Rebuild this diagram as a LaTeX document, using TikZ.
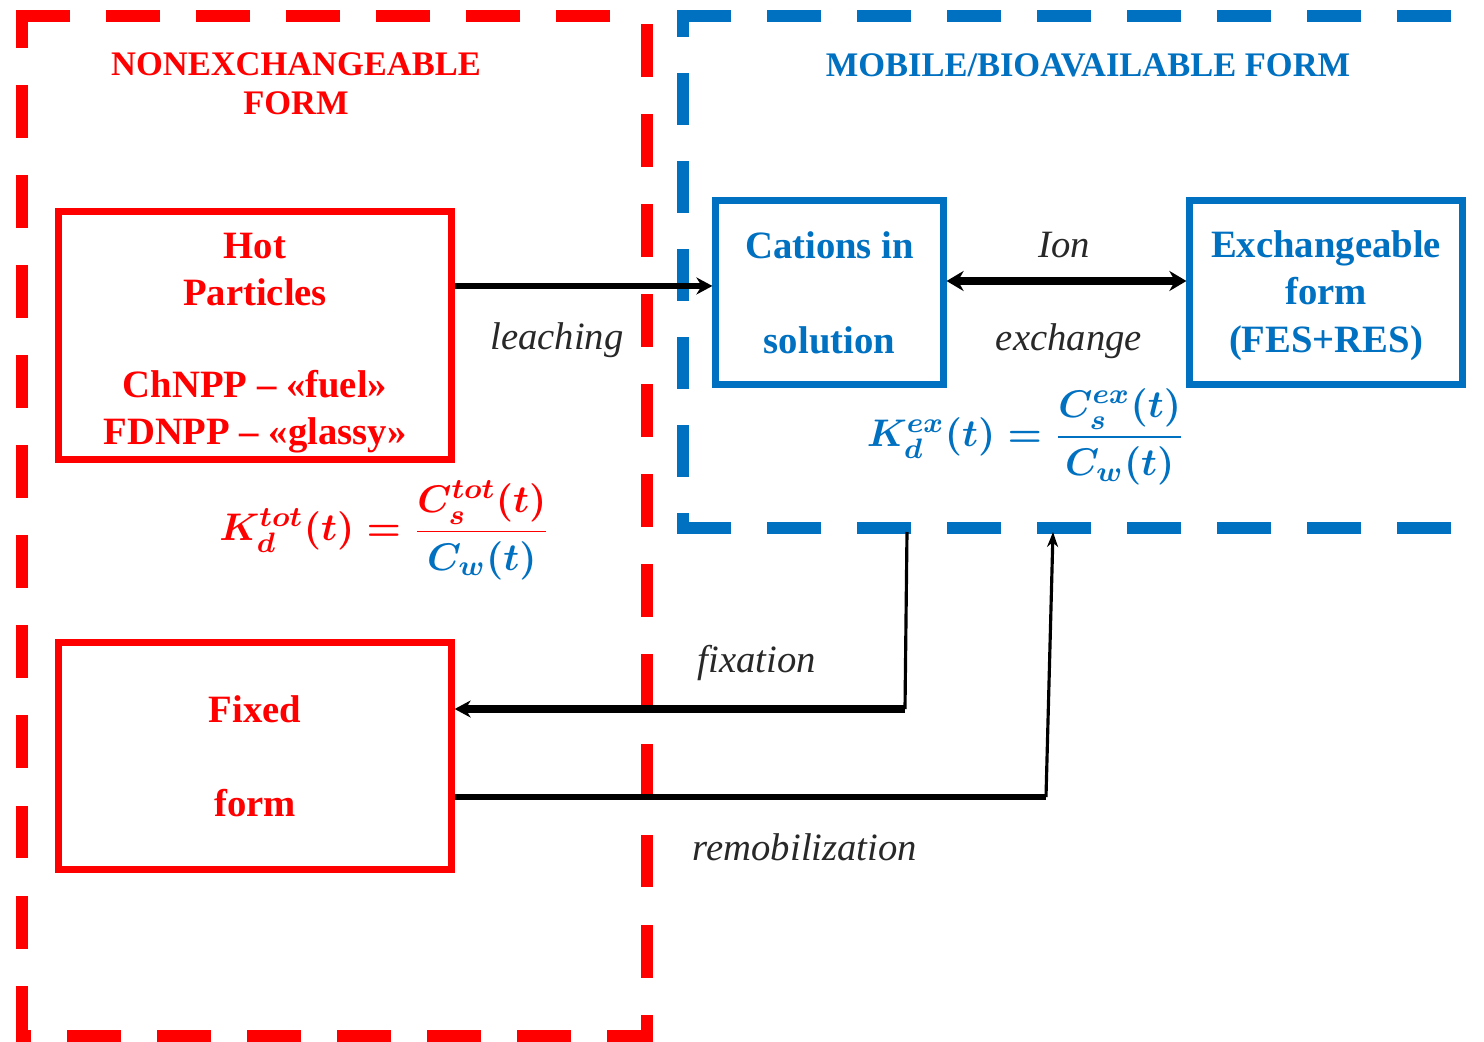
\documentclass[tikz,border=0pt]{standalone}
\usepackage{fontspec}
\usepackage{amsmath}
\setmainfont{Liberation Serif}
\usetikzlibrary{arrows.meta}
\definecolor{nxred}{RGB}{255,0,0}
\definecolor{mbblue}{RGB}{0,112,192}
\definecolor{labelgray}{RGB}{40,40,40}
\tikzset{
  zone/.style={line width=3.4pt, line cap=rect},
  hdash/.style={dash pattern=on 0.42cm off 0.48cm},
  vdash/.style={dash pattern=on 0.41cm off 0.49cm},
  vdash blue/.style={dash pattern=on 0.40cm off 0.48cm},
  pool/.style={draw, line width=2pt, align=center, inner sep=0pt,
    font=\fontsize{11}{13.4}\selectfont\bfseries},
  red pool/.style={pool, draw=nxred, text=nxred},
  blue pool/.style={pool, draw=mbblue, text=mbblue},
  zone title/.style={align=center, font=\fontsize{9.8}{11.1}\selectfont\bfseries},
  flow label/.style={text=labelgray, font=\fontsize{11}{13}\selectfont\itshape},
  flow/.style={line width=1.5pt, -{Stealth[length=0.16cm, width=0.17cm]}},
  kd/.style={font=\fontsize{11}{13}\selectfont\boldmath},
}

\begin{document}
\begin{tikzpicture}[x=0.01cm, y=-0.01cm]
  \useasboundingbox[fill=white] (0,0) rectangle (1484,1042);

  % Nonexchangeable zone
  \draw[zone, nxred, hdash] (22,16) -- (647,16);
  \draw[zone, nxred, vdash, dash phase=0.15cm] (22,16) -- (22,1036);
  \draw[zone, nxred, vdash, dash phase=0.76cm] (647,16) -- (647,1036);
  \draw[zone, nxred, hdash, dash phase=0.39cm] (22,1036) -- (647,1036);

  % Mobile zone (open to the right)
  \draw[zone, mbblue, hdash] (683,16) -- (1484,16);
  \draw[zone, mbblue, vdash blue, dash phase=0.25cm] (683,16) -- (683,528);
  \draw[zone, mbblue, hdash] (683,528) -- (1484,528);

  % Titles
  \node[zone title, text=nxred] (nxtitle) at (296,84) {NONEXCHANGEABLE\\FORM};
  \node[zone title, text=mbblue] (mbtitle) at (1088,65) {MOBILE/BIOAVAILABLE FORM};

  % Pools
  \node[red pool, minimum width=3.92cm, minimum height=2.47cm] (hot) at (255,335.5)
    {\rule{0pt}{0.41cm}Hot\\Particles\\[0.45cm]ChNPP – «fuel»\\FDNPP – «glassy»};
  \node[red pool, minimum width=3.92cm, minimum height=2.26cm] (fixed) at (255,756)
    {Fixed\\[0.47cm]form};
  \node[blue pool, minimum width=2.27cm, minimum height=1.83cm] (cations) at (829.5,292.5)
    {Cations in\\[0.48cm]solution};
  \node[blue pool, minimum width=2.72cm, minimum height=1.83cm] (exch) at (1326,292.5)
    {\rule{0pt}{0.33cm}Exchangeable\\form\\(FES+RES)};

  % Free ends on the mobile zone border
  \coordinate (fixtop) at (907,532);
  \coordinate (fixbend) at (905,709);
  \coordinate (remobend) at (1046,797);
  \coordinate (remotop) at (1053,532);

  % Connectors
  \draw[flow] ([yshift=0.495cm]hot.east) -- ([yshift=0.495cm]hot.east -| cations.west);
  \draw[line width=2pt, {Stealth[length=0.17cm, width=0.2cm]}-{Stealth[length=0.17cm, width=0.2cm]}]
    ([yshift=0.115cm]cations.east) -- ([yshift=0.115cm]cations.east -| exch.west);
  \draw[line width=0.9pt] (fixtop) -- (fixbend);
  \draw[flow, line width=2pt] (fixbend) -- (fixbend -| fixed.east);
  \draw[line width=1.6pt] (remobend -| fixed.east) -- (remobend);
  \draw[line width=0.9pt, -{Stealth[length=0.15cm, width=0.11cm]}] (remobend) -- (remotop);

  % Labels
  \node[flow label] (leachlbl) at (557,340) {leaching};
  \node[flow label] (ionlbl) at (1064,245) {Ion};
  \node[flow label] (exlbl) at (1069,341) {exchange};
  \node[flow label] (fixlbl) at (757,663) {fixation};
  \node[flow label] (remlbl) at (805,847) {remobilization};

  % Distribution coefficients
  \node[kd, text=nxred] (kdtot) at (385,530)
    {$K_d^{tot}(t)=\dfrac{C_s^{tot}(t)}{\color{mbblue}C_w(t)}$};
  \node[kd, text=mbblue] (kdex) at (1026,437)
    {$K_d^{ex}(t)=\dfrac{C_s^{ex}(t)}{C_w(t)}$};
\end{tikzpicture}
\end{document}
